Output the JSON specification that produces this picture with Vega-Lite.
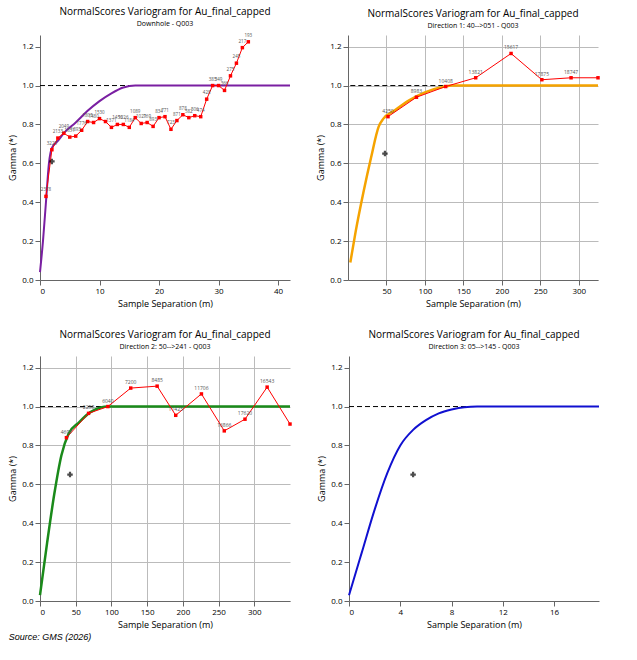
{
  "$schema": "https://vega.github.io/schema/vega-lite/v6.json",
  "background": "white",
  "padding": {"left": 8, "top": 6, "right": 6, "bottom": 2},
  "title": {"text": "Source: GMS (2026)", "orient": "bottom", "anchor": "start", "fontStyle": "italic", "fontSize": 9, "fontWeight": "normal", "font": "Liberation Sans", "offset": 4},
  "datasets": {
    "exp": [
      {"p": 1, "x": 1, "g": 0.43, "n": "2378"}, {"p": 1, "x": 2, "g": 0.67, "n": "3225"}, {"p": 1, "x": 3, "g": 0.73, "n": "2133"},
      {"p": 1, "x": 4, "g": 0.755, "n": "2049"}, {"p": 1, "x": 5, "g": 0.735, "n": "1851"}, {"p": 1, "x": 6, "g": 0.74, "n": "1893"},
      {"p": 1, "x": 7, "g": 0.77, "n": "1776"}, {"p": 1, "x": 8, "g": 0.815, "n": "1805"}, {"p": 1, "x": 9, "g": 0.81, "n": "1480"},
      {"p": 1, "x": 10, "g": 0.83, "n": "1530"}, {"p": 1, "x": 11, "g": 0.815, "n": ""}, {"p": 1, "x": 12, "g": 0.785, "n": "1371"},
      {"p": 1, "x": 13, "g": 0.8, "n": "1456"}, {"p": 1, "x": 14, "g": 0.8, "n": "1226"}, {"p": 1, "x": 15, "g": 0.785, "n": "1184"},
      {"p": 1, "x": 16, "g": 0.835, "n": "1089"}, {"p": 1, "x": 17, "g": 0.805, "n": "1021"}, {"p": 1, "x": 18, "g": 0.81, "n": "769"},
      {"p": 1, "x": 19, "g": 0.79, "n": "893"}, {"p": 1, "x": 20, "g": 0.835, "n": "834"}, {"p": 1, "x": 21, "g": 0.84, "n": "771"},
      {"p": 1, "x": 22, "g": 0.775, "n": "723"}, {"p": 1, "x": 23, "g": 0.82, "n": "871"}, {"p": 1, "x": 24, "g": 0.85, "n": "878"},
      {"p": 1, "x": 25, "g": 0.835, "n": "582"}, {"p": 1, "x": 26, "g": 0.845, "n": "506"}, {"p": 1, "x": 27, "g": 0.84, "n": "474"},
      {"p": 1, "x": 28, "g": 0.93, "n": "428"}, {"p": 1, "x": 29, "g": 1.0, "n": "385"}, {"p": 1, "x": 30, "g": 1.0, "n": "349"},
      {"p": 1, "x": 31, "g": 0.975, "n": "366"}, {"p": 1, "x": 32, "g": 1.05, "n": "275"}, {"p": 1, "x": 33, "g": 1.115, "n": "245"},
      {"p": 1, "x": 34, "g": 1.195, "n": "217"}, {"p": 1, "x": 35, "g": 1.225, "n": "193"},
      {"p": 2, "x": 52, "g": 0.84, "n": "4250"}, {"p": 2, "x": 89, "g": 0.94, "n": "8983"}, {"p": 2, "x": 127, "g": 0.995, "n": "10408"},
      {"p": 2, "x": 166, "g": 1.04, "n": "13821"}, {"p": 2, "x": 212, "g": 1.165, "n": "15617"}, {"p": 2, "x": 252, "g": 1.03, "n": "17875"},
      {"p": 2, "x": 290, "g": 1.04, "n": "18747"}, {"p": 2, "x": 325, "g": 1.04, "n": ""},
      {"p": 3, "x": 37, "g": 0.84, "n": "4697"}, {"p": 3, "x": 68, "g": 0.965, "n": "2258"}, {"p": 3, "x": 95, "g": 1.0, "n": "6040"},
      {"p": 3, "x": 127, "g": 1.095, "n": "7200"}, {"p": 3, "x": 164, "g": 1.105, "n": "8485"}, {"p": 3, "x": 190, "g": 0.955, "n": "11423"},
      {"p": 3, "x": 226, "g": 1.065, "n": "11706"}, {"p": 3, "x": 258, "g": 0.875, "n": "16866"}, {"p": 3, "x": 287, "g": 0.935, "n": "17620"},
      {"p": 3, "x": 318, "g": 1.1, "n": "16543"}, {"p": 3, "x": 350, "g": 0.91, "n": ""}
    ],
    "model": [
      {"p": 1, "x": 0, "g": 0.04}, {"p": 1, "x": 0.5, "g": 0.2}, {"p": 1, "x": 1, "g": 0.4}, {"p": 1, "x": 1.5, "g": 0.6},
      {"p": 1, "x": 2, "g": 0.68}, {"p": 1, "x": 3, "g": 0.715}, {"p": 1, "x": 4, "g": 0.755}, {"p": 1, "x": 6, "g": 0.81},
      {"p": 1, "x": 8, "g": 0.87}, {"p": 1, "x": 10, "g": 0.92}, {"p": 1, "x": 12, "g": 0.96}, {"p": 1, "x": 14, "g": 0.99},
      {"p": 1, "x": 16, "g": 1.0}, {"p": 1, "x": 42, "g": 1.0},
      {"p": 2, "x": 3, "g": 0.09}, {"p": 2, "x": 10, "g": 0.25}, {"p": 2, "x": 20, "g": 0.45}, {"p": 2, "x": 30, "g": 0.63},
      {"p": 2, "x": 40, "g": 0.79}, {"p": 2, "x": 46, "g": 0.83}, {"p": 2, "x": 60, "g": 0.87}, {"p": 2, "x": 80, "g": 0.925},
      {"p": 2, "x": 100, "g": 0.965}, {"p": 2, "x": 120, "g": 0.99}, {"p": 2, "x": 135, "g": 1.0}, {"p": 2, "x": 325, "g": 1.0},
      {"p": 3, "x": 0, "g": 0.03}, {"p": 3, "x": 10, "g": 0.3}, {"p": 3, "x": 20, "g": 0.55}, {"p": 3, "x": 30, "g": 0.75},
      {"p": 3, "x": 40, "g": 0.86}, {"p": 3, "x": 55, "g": 0.92}, {"p": 3, "x": 70, "g": 0.97}, {"p": 3, "x": 85, "g": 0.995},
      {"p": 3, "x": 95, "g": 1.0}, {"p": 3, "x": 350, "g": 1.0},
      {"p": 4, "x": 0, "g": 0.03}, {"p": 4, "x": 1, "g": 0.25}, {"p": 4, "x": 2, "g": 0.47}, {"p": 4, "x": 3, "g": 0.66},
      {"p": 4, "x": 4, "g": 0.8}, {"p": 4, "x": 5, "g": 0.88}, {"p": 4, "x": 6, "g": 0.93}, {"p": 4, "x": 7, "g": 0.965},
      {"p": 4, "x": 8, "g": 0.985}, {"p": 4, "x": 9, "g": 0.997}, {"p": 4, "x": 10, "g": 1.0}, {"p": 4, "x": 19.5, "g": 1.0}
    ],
    "sill": [
      {"p": 1, "x": 0, "x2": 16}, {"p": 2, "x": 3, "x2": 130}, {"p": 3, "x": 0, "x2": 95}, {"p": 4, "x": 0, "x2": 10}
    ],
    "cross": [
      {"p": 1, "x": 2, "g": 0.61}, {"p": 2, "x": 48, "g": 0.65}, {"p": 3, "x": 42, "g": 0.65}, {"p": 4, "x": 5, "g": 0.65}
    ]
  },
  "vconcat": [
    {
      "hconcat": [
        {
          "title": {"text": "NormalScores  Variogram for Au_final_capped", "subtitle": "Downhole - Q003"},
          "width": 250, "height": 245,
          "layer": [
            {"data": {"name": "sill"}, "transform": [{"filter": "datum.p == 1"}], "mark": {"type": "rule", "strokeDash": [5, 3], "color": "black"},
             "encoding": {"x": {"field": "x", "type": "quantitative"}, "x2": {"field": "x2"}, "y": {"datum": 1}}},
            {"data": {"name": "model"}, "transform": [{"filter": "datum.p == 1"}], "mark": {"type": "line", "color": "#7a1fa2", "strokeWidth": 2, "interpolate": "monotone"},
             "encoding": {"x": {"field": "x", "type": "quantitative", "scale": {"domain": [0, 42], "nice": false}, "title": "Sample Separation (m)", "axis": {"grid": false, "values": [0, 5, 10, 15, 20, 25, 30, 35, 40]}},
                          "y": {"field": "g", "type": "quantitative", "scale": {"domain": [0, 1.26], "nice": false}, "title": "Gamma (*)", "axis": {"grid": false, "values": [0, 0.2, 0.4, 0.6, 0.8, 1.0, 1.2], "format": ".1f"}}}},
            {"data": {"name": "exp"}, "transform": [{"filter": "datum.p == 1"}], "mark": {"type": "line", "color": "red", "strokeWidth": 1, "point": {"color": "red", "size": 12, "shape": "square"}},
             "encoding": {"x": {"field": "x", "type": "quantitative"}, "y": {"field": "g", "type": "quantitative"}}},
            {"data": {"name": "exp"}, "transform": [{"filter": "datum.p == 1"}], "mark": {"type": "text", "fontSize": 4.5, "color": "#555", "dy": -6},
             "encoding": {"x": {"field": "x", "type": "quantitative"}, "y": {"field": "g", "type": "quantitative"}, "text": {"field": "n"}}},
            {"data": {"name": "cross"}, "transform": [{"filter": "datum.p == 1"}], "mark": {"type": "point", "shape": "cross", "color": "black", "size": 30, "filled": true},
             "encoding": {"x": {"field": "x", "type": "quantitative"}, "y": {"field": "g", "type": "quantitative"}}}
          ]
        },
        {
          "title": {"text": "NormalScores  Variogram for Au_final_capped", "subtitle": "Direction 1: 40-->051 - Q003"},
          "width": 250, "height": 245,
          "layer": [
            {"data": {"name": "sill"}, "transform": [{"filter": "datum.p == 2"}], "mark": {"type": "rule", "strokeDash": [5, 3], "color": "black"},
             "encoding": {"x": {"field": "x", "type": "quantitative"}, "x2": {"field": "x2"}, "y": {"datum": 1}}},
            {"data": {"name": "model"}, "transform": [{"filter": "datum.p == 2"}], "mark": {"type": "line", "color": "#f5a300", "strokeWidth": 2.5, "interpolate": "monotone"},
             "encoding": {"x": {"field": "x", "type": "quantitative", "scale": {"domain": [3, 325], "nice": false}, "title": "Sample Separation (m)", "axis": {"grid": true, "values": [50, 100, 150, 200, 250, 300]}},
                          "y": {"field": "g", "type": "quantitative", "scale": {"domain": [0, 1.26], "nice": false}, "title": "Gamma (*)", "axis": {"grid": true, "values": [0, 0.2, 0.4, 0.6, 0.8, 1.0, 1.2], "format": ".1f"}}}},
            {"data": {"name": "exp"}, "transform": [{"filter": "datum.p == 2"}], "mark": {"type": "line", "color": "red", "strokeWidth": 1, "point": {"color": "red", "size": 12, "shape": "square"}},
             "encoding": {"x": {"field": "x", "type": "quantitative"}, "y": {"field": "g", "type": "quantitative"}}},
            {"data": {"name": "exp"}, "transform": [{"filter": "datum.p == 2"}], "mark": {"type": "text", "fontSize": 5, "color": "#555", "dy": -6},
             "encoding": {"x": {"field": "x", "type": "quantitative"}, "y": {"field": "g", "type": "quantitative"}, "text": {"field": "n"}}},
            {"data": {"name": "cross"}, "transform": [{"filter": "datum.p == 2"}], "mark": {"type": "point", "shape": "cross", "color": "black", "size": 30, "filled": true},
             "encoding": {"x": {"field": "x", "type": "quantitative"}, "y": {"field": "g", "type": "quantitative"}}}
          ]
        }
      ]
    },
    {
      "hconcat": [
        {
          "title": {"text": "NormalScores  Variogram for Au_final_capped", "subtitle": "Direction 2: 50-->241 - Q003"},
          "width": 250, "height": 245,
          "layer": [
            {"data": {"name": "sill"}, "transform": [{"filter": "datum.p == 3"}], "mark": {"type": "rule", "strokeDash": [5, 3], "color": "black"},
             "encoding": {"x": {"field": "x", "type": "quantitative"}, "x2": {"field": "x2"}, "y": {"datum": 1}}},
            {"data": {"name": "model"}, "transform": [{"filter": "datum.p == 3"}], "mark": {"type": "line", "color": "#1a8a1a", "strokeWidth": 2.5, "interpolate": "monotone"},
             "encoding": {"x": {"field": "x", "type": "quantitative", "scale": {"domain": [0, 350], "nice": false}, "title": "Sample Separation (m)", "axis": {"grid": true, "values": [0, 50, 100, 150, 200, 250, 300]}},
                          "y": {"field": "g", "type": "quantitative", "scale": {"domain": [0, 1.26], "nice": false}, "title": "Gamma (*)", "axis": {"grid": true, "values": [0, 0.2, 0.4, 0.6, 0.8, 1.0, 1.2], "format": ".1f"}}}},
            {"data": {"name": "exp"}, "transform": [{"filter": "datum.p == 3"}], "mark": {"type": "line", "color": "red", "strokeWidth": 1, "point": {"color": "red", "size": 12, "shape": "square"}},
             "encoding": {"x": {"field": "x", "type": "quantitative"}, "y": {"field": "g", "type": "quantitative"}}},
            {"data": {"name": "exp"}, "transform": [{"filter": "datum.p == 3"}], "mark": {"type": "text", "fontSize": 5, "color": "#555", "dy": -6},
             "encoding": {"x": {"field": "x", "type": "quantitative"}, "y": {"field": "g", "type": "quantitative"}, "text": {"field": "n"}}},
            {"data": {"name": "cross"}, "transform": [{"filter": "datum.p == 3"}], "mark": {"type": "point", "shape": "cross", "color": "black", "size": 30, "filled": true},
             "encoding": {"x": {"field": "x", "type": "quantitative"}, "y": {"field": "g", "type": "quantitative"}}}
          ]
        },
        {
          "title": {"text": "NormalScores  Variogram for Au_final_capped", "subtitle": "Direction 3: 05-->145 - Q003"},
          "width": 250, "height": 245,
          "layer": [
            {"data": {"name": "sill"}, "transform": [{"filter": "datum.p == 4"}], "mark": {"type": "rule", "strokeDash": [5, 3], "color": "black"},
             "encoding": {"x": {"field": "x", "type": "quantitative"}, "x2": {"field": "x2"}, "y": {"datum": 1}}},
            {"data": {"name": "model"}, "transform": [{"filter": "datum.p == 4"}], "mark": {"type": "line", "color": "#1010d0", "strokeWidth": 2, "interpolate": "monotone"},
             "encoding": {"x": {"field": "x", "type": "quantitative", "scale": {"domain": [0, 19.5], "nice": false}, "title": "Sample Separation (m)", "axis": {"grid": false, "labelOverlap": false, "values": [0, 2, 4, 6, 8, 10, 12, 14, 16, 18]}},
                          "y": {"field": "g", "type": "quantitative", "scale": {"domain": [0, 1.26], "nice": false}, "title": "Gamma (*)", "axis": {"grid": false, "values": [0, 0.2, 0.4, 0.6, 0.8, 1.0, 1.2], "format": ".1f"}}}},
            {"data": {"name": "cross"}, "transform": [{"filter": "datum.p == 4"}], "mark": {"type": "point", "shape": "cross", "color": "black", "size": 30, "filled": true},
             "encoding": {"x": {"field": "x", "type": "quantitative"}, "y": {"field": "g", "type": "quantitative"}}}
          ]
        }
      ]
    }
  ],
  "config": {
    "font": "Open Sans",
    "view": {"stroke": null},
    "title": {"fontSize": 10, "fontWeight": "normal", "subtitleFontSize": 7, "offset": 6},
    "axis": {"labelFontSize": 8, "titleFontSize": 9, "titleFontWeight": "normal", "gridColor": "#bbb", "domainColor": "#666", "tickColor": "#666"},
    "concat": {"spacing": 22}
  }
}
